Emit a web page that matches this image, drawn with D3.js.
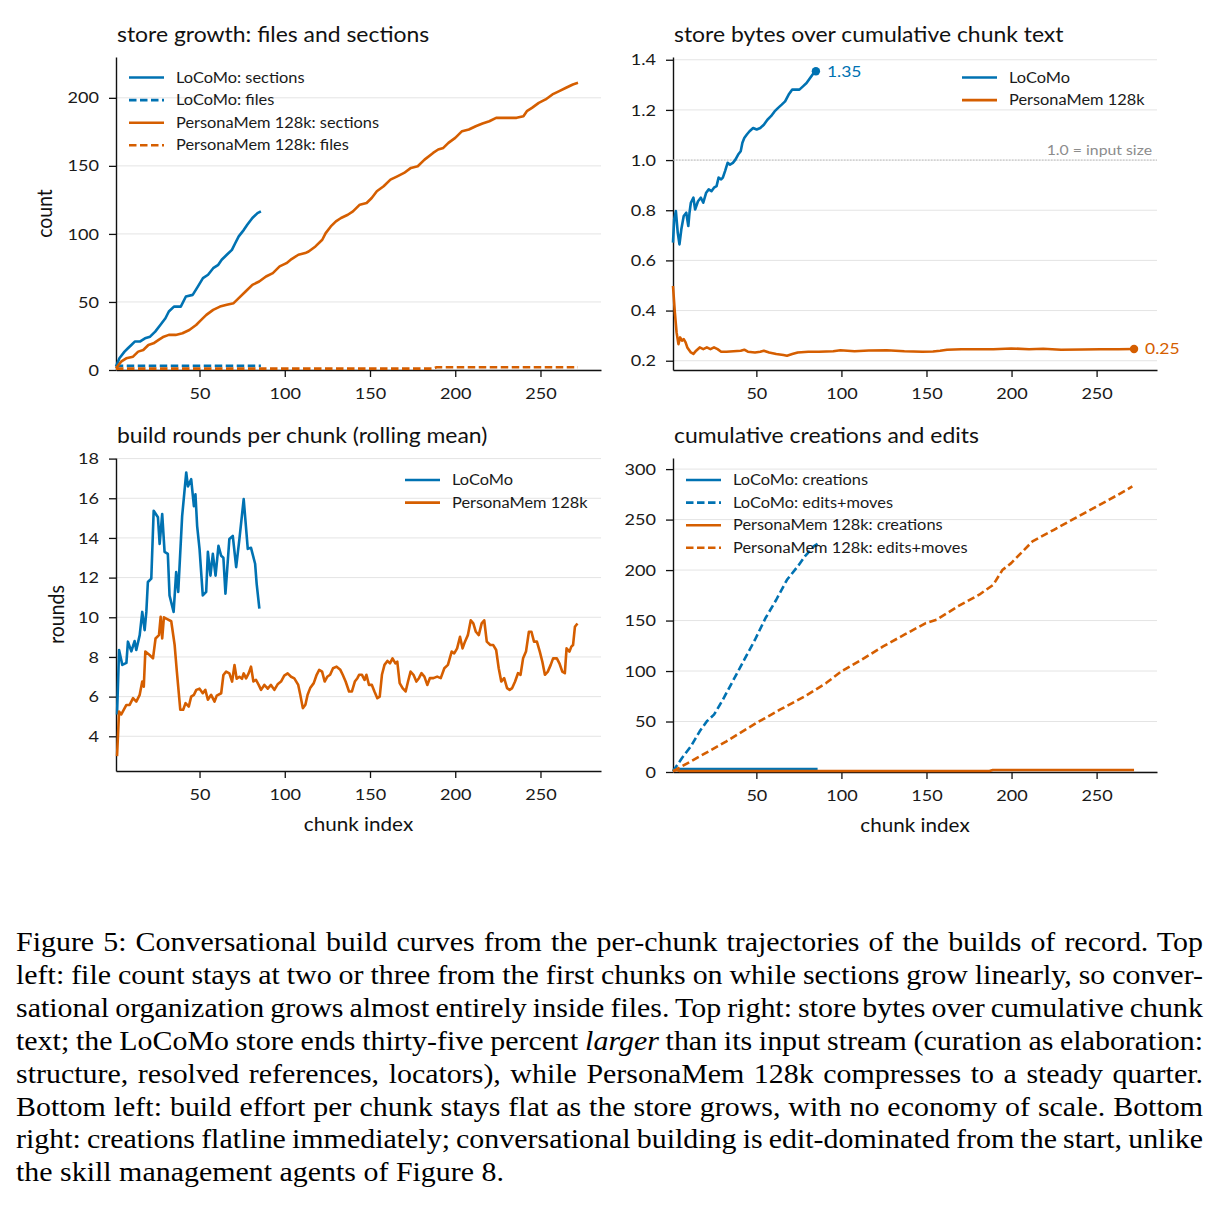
<!DOCTYPE html>
<html>
<head>
<meta charset="utf-8">
<script src="https://cdn.jsdelivr.net/npm/d3@7"></script>
<style>
  body { margin: 0; background: #fff; }
  svg text { font-family: Lato, "Noto Sans", sans-serif; }
</style>
</head>
<body>
<svg id="fig" width="1219" height="1206"></svg>
<script>
// ---- data: [chunk index, value] ----
var xTicks = [50, 100, 150, 200, 250];

// top left: store growth (count)
var locomoSections = [[1,2.5],[3,8.6],[6,13.5],[8,16],[10,18.4],[12,20.9],[15,20.9],[18,23.3],[21,24.5],[24,28.2],[27,33.1],[30,38],[32,43],[35,46.6],[39,46.6],[42,54],[46,55.2],[49,61.3],[52,67.5],[55,70],[58,74.8],[61,77.3],[63,81],[66,84.7],[69,88.3],[71,93.3],[73,98.2],[76,103],[78,106.7],[81,111.7],[84,115.3],[86,116.6]];
var locomoFiles = [[1,2],[3,3],[86,3]];
var personaSections = [[1,1.2],[4,6.1],[7,8.6],[11,9.8],[14,13.5],[17,14.7],[20,18.4],[23,19.6],[26,22.1],[29,24.5],[32,25.8],[36,25.8],[40,27],[44,29.4],[48,33.1],[51,36.8],[54,40.5],[58,44.2],[62,46.6],[66,47.9],[70,49.1],[73,52.8],[77,57.7],[81,62.6],[85,65],[89,68.7],[93,71.2],[97,76.1],[101,78.5],[104,81.5],[108,84.7],[112,85.9],[114,87.1],[118,90.8],[122,95.7],[124,100.6],[127,105.5],[130,109.2],[133,111.7],[137,114.1],[140,116.6],[144,121.5],[148,122.7],[151,126.4],[154,131.3],[158,135],[162,139.9],[166,142.3],[170,144.8],[174,148.5],[178,149.7],[182,154.6],[187,159.5],[190,162],[193,163.2],[196,166.9],[200,170.6],[204,175.5],[208,176.7],[212,179.1],[216,181.1],[220,182.8],[224,185.3],[229,185.3],[236,185.3],[240,186.5],[242,190.2],[245,192.6],[249,196.3],[253,198.8],[257,202.5],[261,204.9],[265,207.4],[269,209.8],[272,211]];
var personaFiles = [[1,1],[187,1],[189,2],[272,2]];

// top right: store bytes / cumulative chunk text
var locomoRatio = [[1,0.671],[1.7,0.764],[2.7,0.797],[3.8,0.71],[4.8,0.664],[5.9,0.724],[7.3,0.777],[8.8,0.79],[10,0.737],[10.7,0.79],[11.5,0.83],[13,0.85],[14,0.803],[15.7,0.836],[17.4,0.85],[18.8,0.83],[20.5,0.87],[22,0.883],[23.6,0.876],[25.1,0.89],[26.6,0.896],[27.8,0.93],[29.3,0.923],[30.3,0.93],[31.6,0.956],[33.1,0.989],[34.5,0.982],[36.2,0.989],[37.7,1.002],[39.3,1.022],[40.8,1.035],[41.8,1.069],[42.9,1.088],[44.4,1.102],[46,1.115],[48.1,1.128],[50.2,1.122],[52.3,1.128],[54.4,1.141],[56.5,1.161],[58.6,1.175],[60.7,1.194],[62.8,1.208],[64.9,1.221],[66.9,1.234],[69,1.261],[71.1,1.281],[73.2,1.281],[75.3,1.281],[77.4,1.294],[79.5,1.307],[81.6,1.327],[83.7,1.347],[85,1.354]];
var personaRatio = [[1,0.498],[2.1,0.392],[3.1,0.313],[4.2,0.266],[5.2,0.293],[6.3,0.28],[7.3,0.286],[8.4,0.273],[9.4,0.253],[11.5,0.233],[13,0.227],[14.6,0.24],[16.7,0.253],[18.8,0.246],[20.9,0.253],[23,0.246],[25.1,0.253],[27.2,0.246],[29.3,0.236],[32.4,0.236],[36.6,0.238],[40.8,0.24],[42.9,0.244],[45,0.236],[49.2,0.233],[52.3,0.236],[54.4,0.24],[57.5,0.233],[61.7,0.227],[65.9,0.223],[68,0.22],[71.1,0.227],[74.3,0.233],[80.5,0.236],[86.8,0.236],[95.2,0.238],[99.4,0.242],[107.7,0.238],[116.1,0.241],[126.6,0.242],[137,0.238],[147.5,0.236],[153.8,0.237],[158,0.24],[162.1,0.244],[170.5,0.246],[178.9,0.246],[189.3,0.246],[199.8,0.249],[210.3,0.246],[218.6,0.248],[229.1,0.244],[241.6,0.245],[252.1,0.246],[262.6,0.246],[272,0.247]];
var ratioEnds = [{x: 85, y: 1.354, label: "1.35", c: 0}, {x: 272, y: 0.247, label: "0.25", c: 1}];

// bottom left: build rounds per chunk (rolling mean)
var locomoRounds = [[1.6,5.1],[2.8,8.35],[4.7,7.6],[7.1,7.7],[8,8.77],[10,8.28],[11.9,8.8],[12.9,8.35],[14.9,9.1],[16.4,10.27],[17.8,9.35],[18.8,10.27],[19.7,11.78],[21.7,11.95],[23.1,15.37],[25.6,15.04],[26.6,13.7],[28.1,15.2],[29.5,13.3],[31.4,13.2],[32.4,11.1],[34.8,10.27],[36.3,12.28],[37.5,11.28],[39.8,15.1],[42.2,17.3],[43.2,16.6],[45.1,16.96],[46.7,15.6],[47.6,16.2],[48.6,14.6],[50,13.45],[51.9,11.1],[53.9,11.28],[54.9,13.3],[56.4,12.1],[57.8,13.2],[59.4,12.1],[61.1,13.6],[62.7,13.1],[64,13],[65.2,11.19],[67.5,13.95],[69.5,14.1],[71.5,12.53],[73.4,13.95],[75.9,15.96],[78.3,13.45],[80.2,13.5],[82.6,12.7],[83.5,11.7],[85.1,10.44]];
var personaRounds = [[1.6,3],[2.8,5.25],[4.1,5.1],[7.1,5.58],[9,5.58],[11,5.92],[12.9,5.75],[14.9,6.09],[16.4,6.76],[17.3,6.5],[18.2,8.27],[20.7,8.1],[22.7,7.93],[24.2,8.93],[26.2,9.1],[27.2,10.02],[28.1,8.93],[29.1,10],[30.5,9.93],[33.4,9.8],[35.4,8.6],[36.7,7.26],[38.7,5.34],[40.4,5.34],[41.8,5.67],[43.7,5.5],[45.1,6],[46.7,6.09],[48.1,6.34],[50,6.4],[51.9,6.17],[53.4,6.34],[54.9,5.84],[56.8,6.09],[58.8,5.75],[60.1,6.05],[62.7,6.17],[64,7.09],[65.6,7.26],[67.5,7.17],[69.1,6.76],[70.5,7.59],[71.8,6.9],[73.4,7],[74.9,6.9],[75.9,7.17],[77.3,6.92],[78.8,7.17],[80.2,7.51],[81.6,6.76],[83.1,6.85],[84.7,6.59],[86.1,6.34],[88,6.59],[90,6.4],[91.9,6.59],[93.9,6.34],[95.8,6.62],[97.8,6.76],[99.7,7.06],[101.7,7.17],[103.7,7],[105.6,6.92],[107.9,6.59],[109.1,6.09],[110.6,5.42],[112.1,5.59],[113.4,6.09],[114.9,6.43],[117,6.68],[118.7,7.1],[120.2,7.35],[121.9,7.26],[123.4,6.76],[124.9,7],[126.6,7.1],[128.3,7.43],[130.4,7.51],[132.6,7.35],[134,7.1],[135.7,6.76],[137.7,6.26],[139.4,6.26],[141.1,6.76],[142.6,6.93],[143.6,7.1],[145.3,7.1],[146.8,6.84],[147.9,7.1],[149.4,6.59],[151.1,6.59],[152.6,6.26],[154.3,5.92],[155.7,6],[157,7.1],[158.5,7.6],[160.2,7.8],[161.7,7.68],[163.2,7.93],[164.9,7.68],[166,7.76],[167.4,6.68],[169.1,6.43],[170.9,6.26],[172.3,6.76],[173.8,7.26],[175.5,7.1],[177.2,6.76],[178.7,6.93],[180.2,7.18],[181.9,7.01],[183.6,6.59],[185.1,6.93],[187.2,6.93],[189.4,7.01],[191.5,6.93],[193.6,7.43],[195.7,7.6],[197.9,8.27],[199.4,8.18],[201.1,8.43],[202.8,9.02],[204.3,8.43],[205.7,8.77],[207.4,9.1],[209.1,9.85],[210.6,9.69],[212.1,9.27],[213.8,9.1],[215.5,9.69],[217,9.85],[218.5,8.77],[220.6,8.6],[222.3,8.6],[224,8.35],[225.5,7.43],[227,6.76],[228.7,6.93],[230.4,6.43],[231.9,6.34],[233.4,6.43],[235.1,6.76],[236.8,7.18],[238.3,7.1],[239.8,7.93],[241.5,8.27],[243.2,9.27],[244.7,9.27],[246.2,8.77],[247.9,8.77],[249.6,8.27],[251.1,7.76],[252.6,7.1],[254.3,7.26],[256,7.6],[257.4,7.93],[259.6,7.93],[261.1,7.68],[262.8,7.26],[264.3,7.18],[265.3,8.43],[267,8.27],[268.1,8.52],[269.1,8.6],[270.2,9.52],[271.7,9.69]];

// bottom right: cumulative creations and edits
var locomoCreations = [[1,2],[3,3],[86,3]];
var locomoEdits = [[1,0.7],[6.3,13.9],[11.5,25.4],[16.7,40.3],[20.9,50.2],[25.1,56.8],[30.3,71.6],[36.6,91.4],[42.9,111.2],[49.2,131],[55.4,152.5],[61.7,170.6],[68,190.4],[74.3,203.6],[78.5,213.5],[83.7,223.4],[86,226]];
var personaCreations = [[1,1],[3,2],[5,1],[187,1],[189,2],[272,2]];
var personaEdits = [[1,0.7],[11.5,10.6],[22,20.5],[32.4,30.4],[50,48.5],[63.8,61.7],[78.5,74.9],[91,88.1],[100,99.7],[111.9,111.2],[124.5,124.4],[137,136],[149.6,147.5],[155.9,150.8],[168.4,164],[181,175.6],[189.3,185.5],[194.6,200],[199.8,206.9],[212.3,228.4],[224.9,239.9],[237.4,251.5],[250,263],[262.6,274.6],[271,282.8]];

var colors = ["#0072B2", "#D55E00"];

var captionLines = [
  ["Figure 5: Conversational build curves from the per-chunk trajectories of the builds of record. Top"],
  ["left: file count stays at two or three from the first chunks on while sections grow linearly, so conver-"],
  ["sational organization grows almost entirely inside files. Top right: store bytes over cumulative chunk"],
  ["text; the LoCoMo store ends thirty-five percent ", "larger", " than its input stream (curation as elaboration:"],
  ["structure, resolved references, locators), while PersonaMem 128k compresses to a steady quarter."],
  ["Bottom left: build effort per chunk stays flat as the store grows, with no economy of scale. Bottom"],
  ["right: creations flatline immediately; conversational building is edit-dominated from the start, unlike"],
  ["the skill management agents of Figure 8."]
];

// the reference figure is a little wider than tall, so glyphs get a horizontal stretch
var stretch = 1.13;

var svg = d3.select("#fig");

function widen(sel) {
  sel.each(function() {
    var t = d3.select(this);
    var x = +t.attr("x") || 0, y = +t.attr("y") || 0;
    t.attr("x", 0).attr("y", 0)
      .attr("transform", `translate(${x},${y}) scale(${stretch},1)`);
  });
}

// builds one panel: grid, axes, title, labels; returns scales and group
function makePanel(opts) {
  var w = opts.w, h = opts.h;
  var g = svg.append("g").attr("transform", `translate(${opts.left},${opts.top})`);
  var x = d3.scaleLinear().domain([1, 285.5]).range([0, w]);
  var y = d3.scaleLinear().domain(opts.yDomain).range([h, 0]);

  g.append("g").selectAll("line")
    .data(opts.yTicks)
    .join("line")
    .attr("x1", 0).attr("x2", w)
    .attr("y1", d => y(d)).attr("y2", d => y(d))
    .attr("stroke", "#e4e4e4")
    .attr("stroke-width", 1);

  var xAxis = g.append("g")
    .attr("transform", `translate(0,${h})`)
    .call(d3.axisBottom(x).tickValues(xTicks).tickSize(7).tickSizeOuter(0).tickPadding(11));
  var yAxis = g.append("g")
    .call(d3.axisLeft(y).tickValues(opts.yTicks).tickFormat(opts.fmt).tickSize(7).tickSizeOuter(0).tickPadding(10));

  [xAxis, yAxis].forEach(function(a) {
    a.attr("font-family", null).attr("font-size", null);
    a.select(".domain").attr("stroke", "#111").attr("stroke-width", 1.4);
    a.selectAll(".tick line").attr("stroke", "#111").attr("stroke-width", 1.3);
    a.selectAll(".tick text").style("font-size", "16px").attr("fill", "#1a1a1a").call(widen);
  });

  g.append("text")
    .attr("x", 1)
    .attr("y", -15)
    .style("font-size", "20.3px")
    .attr("fill", "#111")
    .text(opts.title)
    .call(widen);

  if (opts.ylabel) {
    g.append("text")
      .attr("transform", `translate(${opts.ylabelX},${h / 2}) rotate(-90) scale(1.08,${stretch})`)
      .attr("text-anchor", "middle")
      .style("font-size", "18px")
      .attr("fill", "#111")
      .text(opts.ylabel);
  }
  if (opts.xlabel) {
    g.append("text")
      .attr("x", w / 2)
      .attr("y", h + 60)
      .attr("text-anchor", "middle")
      .style("font-size", "18.3px")
      .attr("fill", "#111")
      .text(opts.xlabel)
      .call(widen);
  }

  var plot = g.append("g");
  return {g: g, plot: plot, x: x, y: y};
}

function drawLine(p, data, color, dashed) {
  var line = d3.line().x(d => p.x(d[0])).y(d => p.y(d[1]));
  p.plot.append("path")
    .datum(data)
    .attr("d", line)
    .attr("fill", "none")
    .attr("stroke", color)
    .attr("stroke-width", 2.6)
    .attr("stroke-linejoin", "round")
    .attr("stroke-dasharray", dashed ? "7.5,3.5" : null);
}

function legend(p, items, lx, ly) {
  var lg = p.g.append("g").attr("transform", `translate(${lx},${ly})`);
  items.forEach(function(it, i) {
    var yy = i * 22.6;
    lg.append("line")
      .attr("x1", 0).attr("x2", 35)
      .attr("y1", yy).attr("y2", yy)
      .attr("stroke", it.color)
      .attr("stroke-width", 2.6)
      .attr("stroke-dasharray", it.dashed ? "7.5,3.5" : null);
    lg.append("text")
      .attr("x", 47)
      .attr("y", yy)
      .attr("dy", "0.35em")
      .style("font-size", "14.5px")
      .attr("fill", "#1a1a1a")
      .text(it.label)
      .call(widen);
  });
}

// ---- top left ----
var p1 = makePanel({left: 116, top: 57, w: 485, h: 313, yDomain: [0, 230], yTicks: [0, 50, 100, 150, 200],
  fmt: d3.format("d"), title: "store growth: files and sections", ylabel: "count", ylabelX: -64});
drawLine(p1, locomoSections, colors[0], false);
drawLine(p1, locomoFiles, colors[0], true);
drawLine(p1, personaSections, colors[1], false);
drawLine(p1, personaFiles, colors[1], true);
legend(p1, [
  {label: "LoCoMo: sections", color: colors[0]},
  {label: "LoCoMo: files", color: colors[0], dashed: true},
  {label: "PersonaMem 128k: sections", color: colors[1]},
  {label: "PersonaMem 128k: files", color: colors[1], dashed: true}
], 13, 20.5);

// ---- top right ----
var p2 = makePanel({left: 673, top: 57, w: 484, h: 313, yDomain: [0.163, 1.411], yTicks: [0.2, 0.4, 0.6, 0.8, 1.0, 1.2, 1.4],
  fmt: d3.format(".1f"), title: "store bytes over cumulative chunk text"});
p2.plot.append("line")
  .attr("x1", 0).attr("x2", 484)
  .attr("y1", p2.y(1.0)).attr("y2", p2.y(1.0))
  .attr("stroke", "#bdbdbd")
  .attr("stroke-width", 1)
  .attr("stroke-dasharray", "1.5,1.5");
p2.plot.append("text")
  .attr("x", 479)
  .attr("y", p2.y(1.0) - 5)
  .attr("text-anchor", "end")
  .style("font-size", "14px")
  .attr("fill", "#8c8c8c")
  .text("1.0 = input size")
  .call(widen);
drawLine(p2, locomoRatio, colors[0], false);
drawLine(p2, personaRatio, colors[1], false);
ratioEnds.forEach(function(e) {
  p2.plot.append("circle")
    .attr("cx", p2.x(e.x)).attr("cy", p2.y(e.y))
    .attr("r", 4.2)
    .attr("fill", colors[e.c]);
  p2.plot.append("text")
    .attr("x", p2.x(e.x) + 11)
    .attr("y", p2.y(e.y))
    .attr("dy", "0.35em")
    .style("font-size", "15.5px")
    .attr("fill", colors[e.c])
    .text(e.label)
    .call(widen);
});
legend(p2, [
  {label: "LoCoMo", color: colors[0]},
  {label: "PersonaMem 128k", color: colors[1]}
], 289, 20.5);

// ---- bottom left ----
var p3 = makePanel({left: 116, top: 458, w: 485, h: 313, yDomain: [2.25, 18.03], yTicks: [4, 6, 8, 10, 12, 14, 16, 18],
  fmt: d3.format("d"), title: "build rounds per chunk (rolling mean)", ylabel: "rounds", ylabelX: -52, xlabel: "chunk index"});
drawLine(p3, locomoRounds, colors[0], false);
drawLine(p3, personaRounds, colors[1], false);
legend(p3, [
  {label: "LoCoMo", color: colors[0]},
  {label: "PersonaMem 128k", color: colors[1]}
], 289, 22);

// ---- bottom right ----
var p4 = makePanel({left: 673, top: 458, w: 484, h: 314, yDomain: [0, 311], yTicks: [0, 50, 100, 150, 200, 250, 300],
  fmt: d3.format("d"), title: "cumulative creations and edits", xlabel: "chunk index"});
drawLine(p4, locomoCreations, colors[0], false);
drawLine(p4, locomoEdits, colors[0], true);
drawLine(p4, personaCreations, colors[1], false);
drawLine(p4, personaEdits, colors[1], true);
legend(p4, [
  {label: "LoCoMo: creations", color: colors[0]},
  {label: "LoCoMo: edits+moves", color: colors[0], dashed: true},
  {label: "PersonaMem 128k: creations", color: colors[1]},
  {label: "PersonaMem 128k: edits+moves", color: colors[1], dashed: true}
], 13, 22);

// ---- caption, justified by widening word gaps ----
var capLeft = 16, capRight = 1203, capTop = 951, capStep = 32.9;
var capWidth = (capRight - capLeft) / stretch;
captionLines.forEach(function(parts, i) {
  var t = svg.append("text")
    .attr("transform", `translate(${capLeft},${capTop + i * capStep}) scale(${stretch},1)`)
    .style("font-family", "'Liberation Serif', 'Times New Roman', serif")
    .style("font-size", "26.5px")
    .attr("fill", "#000");
  parts.forEach(function(s, j) {
    t.append("tspan")
      .style("font-style", j === 1 ? "italic" : null)
      .text(s);
  });
  if (i < captionLines.length - 1) {
    var natural = t.node().getComputedTextLength();
    var spaces = parts.join("").split(" ").length - 1;
    t.style("word-spacing", ((capWidth - natural) / spaces) + "px");
  }
});
</script>
</body>
</html>
